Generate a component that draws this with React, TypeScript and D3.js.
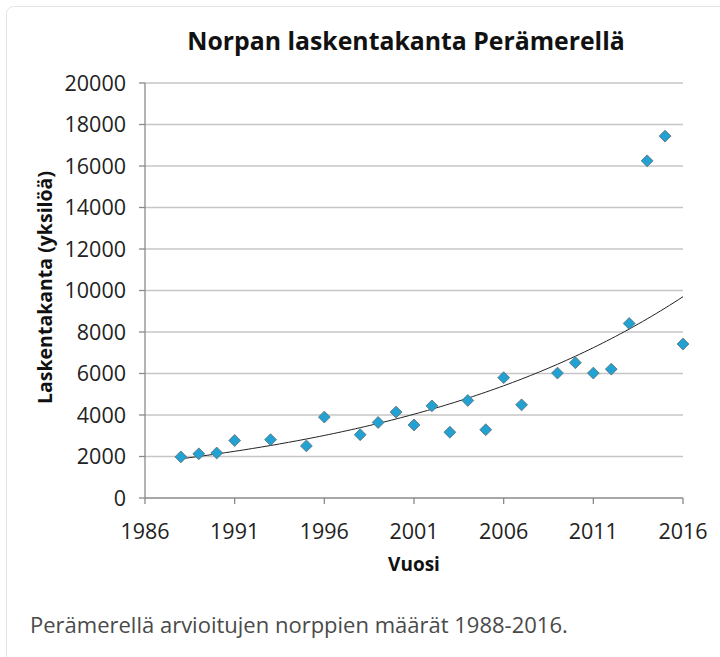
import React from "react";
import * as d3 from "d3";

// ---------------------------------------------------------------------------
// Data
// ---------------------------------------------------------------------------

const YEARS = [
  1988, 1989, 1990, 1991, 1993, 1995, 1996, 1998, 1999, 2000, 2001, 2002, 2003,
  2004, 2005, 2006, 2007, 2009, 2010, 2011, 2012, 2013, 2014, 2015, 2016,
];
const COUNTS = [
  1980, 2130, 2170, 2770, 2810, 2510, 3900, 3050, 3640, 4140, 3520, 4440, 3170,
  4700, 3290, 5800, 4490, 6020, 6520, 6020, 6210, 8410, 16250, 17440, 7420,
];
const X_TICKS = [1986, 1991, 1996, 2001, 2006, 2011, 2016];
const Y_TICKS = [0, 2000, 4000, 6000, 8000, 10000, 12000, 14000, 16000, 18000, 20000];

const TITLE = "Norpan laskentakanta Perämerellä";
const X_LABEL = "Vuosi";
const Y_LABEL = "Laskentakanta (yksilöä)";
const CAPTION = "Perämerellä arvioitujen norppien määrät 1988-2016.";

// ---------------------------------------------------------------------------
// Style
// ---------------------------------------------------------------------------

const FONT = "'Open Sans', 'Noto Sans', sans-serif";
const MARKER_FILL = "#22a2d2";
const MARKER_STROKE = "#5d7078";
const GRID = "#c6c6c6";
const AXIS = "#8a8a8a";

const W = 720;
const H = 657;
const M = { left: 145, right: 683, top: 83, bottom: 498 };

export default function App() {
  const x = d3.scaleLinear().domain([1986, 2016]).range([M.left, M.right]);
  const y = d3.scaleLinear().domain([0, 20000]).range([M.bottom, M.top]);

  // Excel-style exponential trendline: least squares on ln(y)
  const lnY = COUNTS.map((c) => Math.log(c));
  const mx = d3.mean(YEARS)!;
  const my = d3.mean(lnY)!;
  const slope =
    d3.sum(YEARS, (t, i) => (t - mx) * (lnY[i] - my)) /
    d3.sum(YEARS, (t) => (t - mx) * (t - mx));
  const intercept = my - slope * mx;
  const trendYears = d3.range(YEARS[0], YEARS[YEARS.length - 1] + 0.01, 0.25);
  const trendLine = d3
    .line<number>()
    .x((t) => x(t))
    .y((t) => y(Math.exp(intercept + slope * t)))
    .curve(d3.curveMonotoneX);

  const diamond = d3.symbol().type(d3.symbolSquare).size(70)();

  return (
    <svg
      width={W}
      height={H}
      style={{ position: "absolute", left: 0, top: 0, background: "#fff" }}
      fontFamily={FONT}
    >
      {/* card border */}
      <rect
        x={6.5}
        y={6.5}
        width={W + 20}
        height={H + 20}
        rx={7}
        fill="#fff"
        stroke="#e4e4e4"
      />

      <text
        x={406}
        y={49.5}
        textAnchor="middle"
        fontSize={24.8}
        fontWeight="bold"
        fill="#111"
      >
        {TITLE}
      </text>

      {/* gridlines + y ticks */}
      {Y_TICKS.map((v) => (
        <g key={v}>
          <line
            x1={M.left}
            x2={M.right}
            y1={y(v)}
            y2={y(v)}
            stroke={v === 0 ? AXIS : GRID}
            strokeWidth={1.3}
          />
          <line x1={M.left - 6} x2={M.left} y1={y(v)} y2={y(v)} stroke={AXIS} strokeWidth={1.3} />
          <text
            x={M.left - 19}
            y={y(v)}
            dy="0.36em"
            textAnchor="end"
            fontSize={21.5}
            fill="#222"
          >
            {v}
          </text>
        </g>
      ))}

      {/* y axis line */}
      <line x1={M.left} x2={M.left} y1={M.top} y2={M.bottom} stroke={AXIS} strokeWidth={1.3} />

      {/* x ticks */}
      {X_TICKS.map((t) => (
        <g key={t}>
          <line x1={x(t)} x2={x(t)} y1={M.bottom} y2={M.bottom + 6} stroke={AXIS} strokeWidth={1.3} />
          <text x={x(t)} y={M.bottom + 33} dy="0.36em" textAnchor="middle" fontSize={21.5} fill="#222">
            {t}
          </text>
        </g>
      ))}

      {/* trendline */}
      <path d={trendLine(trendYears)!} fill="none" stroke="#222" strokeWidth={1} />

      {/* markers */}
      {YEARS.map((t, i) => (
        <path
          key={t}
          d={diamond!}
          transform={`translate(${x(t)},${y(COUNTS[i])}) rotate(45)`}
          fill={MARKER_FILL}
          stroke={MARKER_STROKE}
          strokeWidth={0.8}
        />
      ))}

      <text
        x={(M.left + M.right) / 2}
        y={564}
        dy="0.35em"
        textAnchor="middle"
        fontSize={19}
        fontWeight="bold"
        fill="#111"
      >
        {X_LABEL}
      </text>
      <text
        transform={`translate(45,${(M.top + M.bottom) / 2 - 3}) rotate(-90)`}
        dy="0.35em"
        textAnchor="middle"
        fontSize={19.5}
        fontWeight="bold"
        fill="#111"
      >
        {Y_LABEL}
      </text>

      <text x={30} y={625} dy="0.35em" fontSize={22} fill="#4a4a4a">
        {CAPTION}
      </text>
    </svg>
  );
}
